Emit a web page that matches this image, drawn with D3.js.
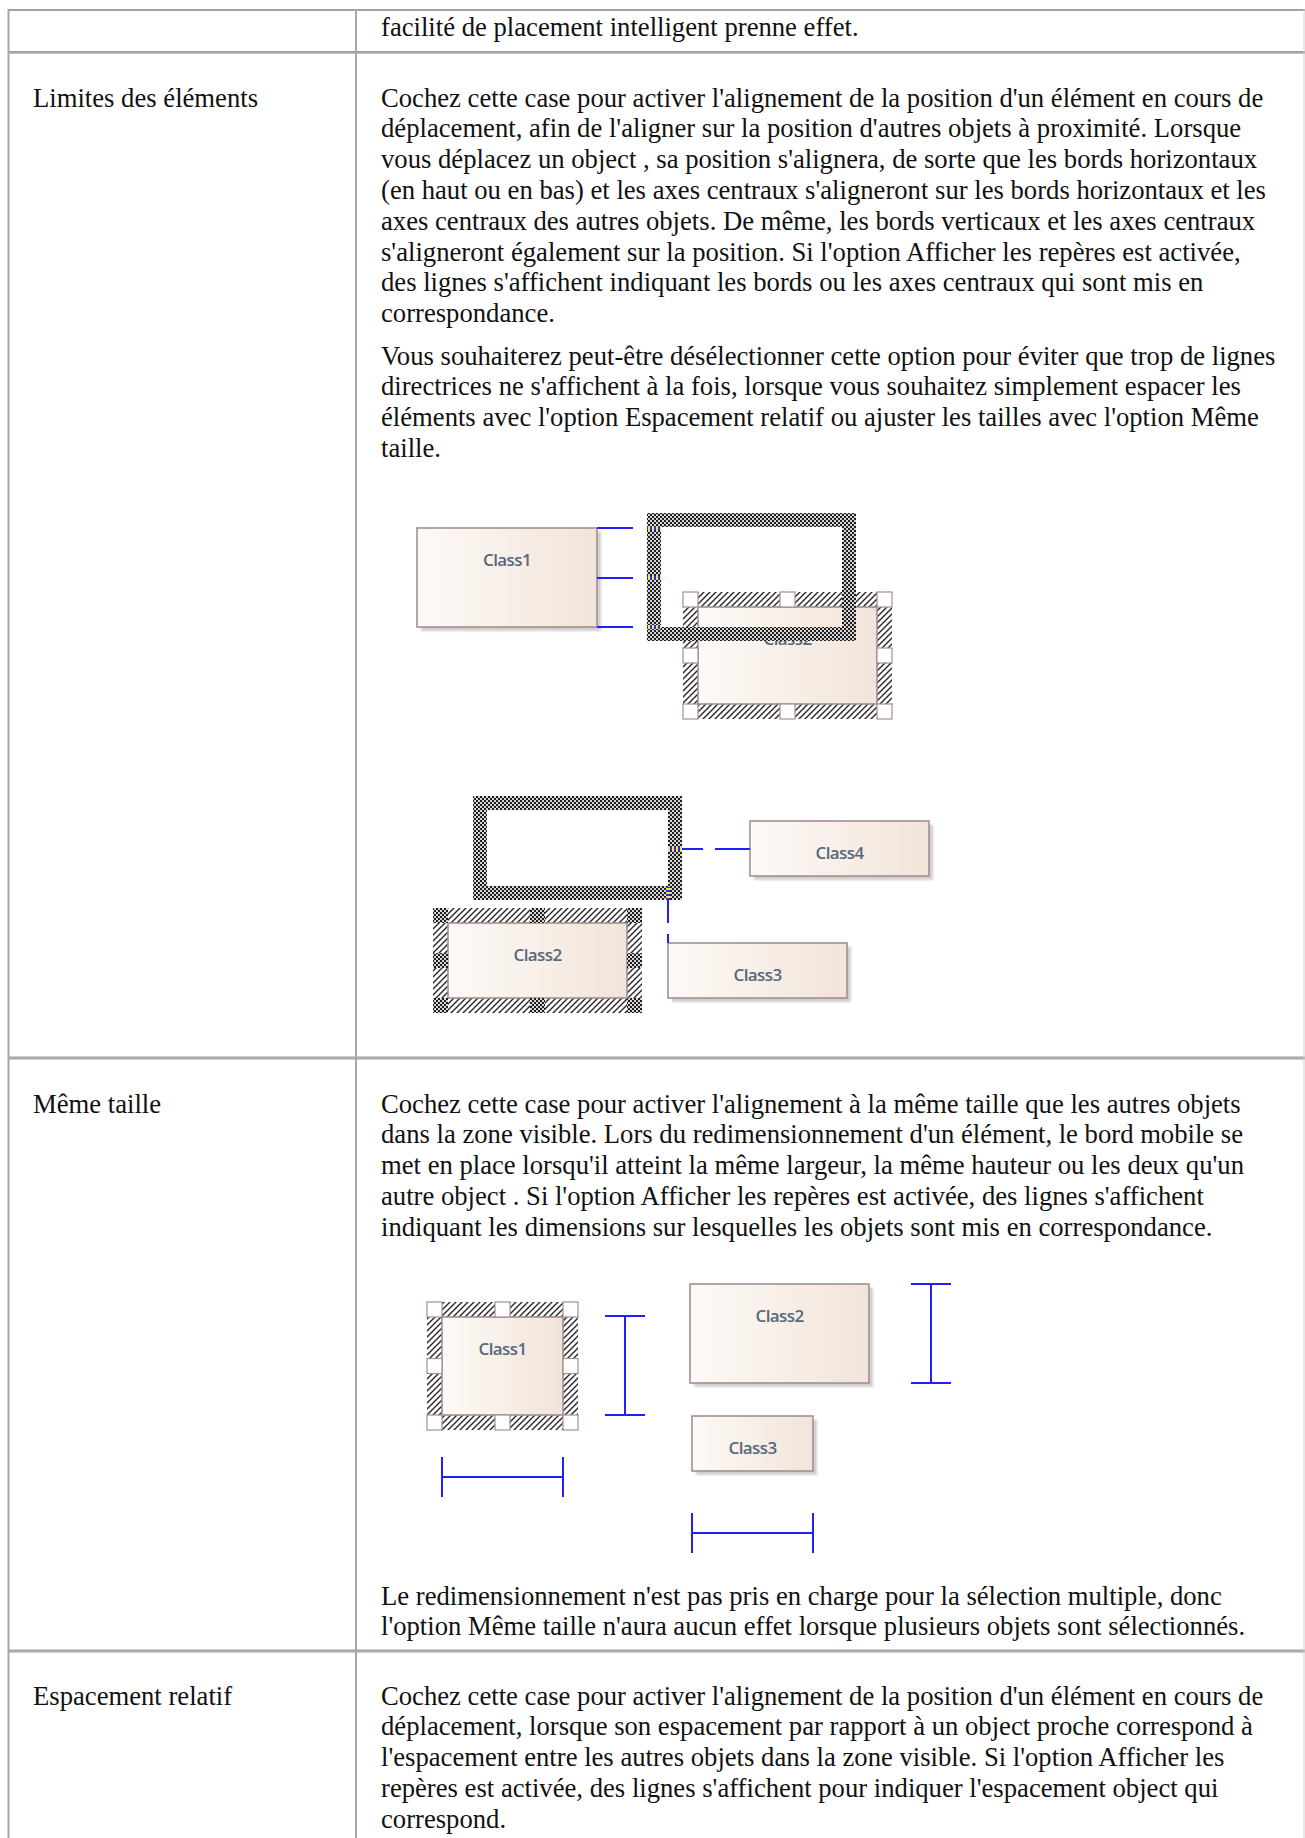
<!DOCTYPE html>
<html><head><meta charset="utf-8">
<script src="https://cdn.jsdelivr.net/npm/d3@7"></script>
<style>html,body{margin:0;padding:0;background:#fff;} svg{display:block}</style>
</head><body>
<script>
// ---------------- DATA ----------------
const rowLabels = ["", "Limites des éléments", "Même taille", "Espacement relatif"];
const row0Lines = ["facilité de placement intelligent prenne effet."];
const limitesPara1 = [
 "Cochez cette case pour activer l'alignement de la position d'un élément en cours de",
 "déplacement, afin de l'aligner sur la position d'autres objets à proximité. Lorsque",
 "vous déplacez un object , sa position s'alignera, de sorte que les bords horizontaux",
 "(en haut ou en bas) et les axes centraux s'aligneront sur les bords horizontaux et les",
 "axes centraux des autres objets. De même, les bords verticaux et les axes centraux",
 "s'aligneront également sur la position. Si l'option Afficher les repères est activée,",
 "des lignes s'affichent indiquant les bords ou les axes centraux qui sont mis en",
 "correspondance."
];
const limitesPara2 = [
 "Vous souhaiterez peut-être désélectionner cette option pour éviter que trop de lignes",
 "directrices ne s'affichent à la fois, lorsque vous souhaitez simplement espacer les",
 "éléments avec l'option Espacement relatif ou ajuster les tailles avec l'option Même",
 "taille."
];
const memePara1 = [
 "Cochez cette case pour activer l'alignement à la même taille que les autres objets",
 "dans la zone visible. Lors du redimensionnement d'un élément, le bord mobile se",
 "met en place lorsqu'il atteint la même largeur, la même hauteur ou les deux qu'un",
 "autre object . Si l'option Afficher les repères est activée, des lignes s'affichent",
 "indiquant les dimensions sur lesquelles les objets sont mis en correspondance."
];
const memePara2 = [
 "Le redimensionnement n'est pas pris en charge pour la sélection multiple, donc",
 "l'option Même taille n'aura aucun effet lorsque plusieurs objets sont sélectionnés."
];
const espacementPara = [
 "Cochez cette case pour activer l'alignement de la position d'un élément en cours de",
 "déplacement, lorsque son espacement par rapport à un object proche correspond à",
 "l'espacement entre les autres objets dans la zone visible. Si l'option Afficher les",
 "repères est activée, des lignes s'affichent pour indiquer l'espacement object qui",
 "correspond."
];
// Diagram contents (diagram-local units)
const diag1Boxes = [{name:"Class1", x:0, y:15, w:180, h:99, sel:false},
                    {name:"Class2", x:281, y:94, w:179, h:97, sel:true, handle:"white"}];
const diag1Frames = [{x:230, y:0, w:209, h:128}];
const diag1Guides = [[180,15,216,15],[180,65,216,65],[180,114,216,114]];
const diag1Marks = [{x:230,y:13,w:14,h:4,dir:"v"},{x:230,y:63,w:14,h:4,dir:"v"},{x:230,y:112,w:14,h:4,dir:"v"}];

const diag2Boxes = [{name:"Class4", x:316, y:25, w:179, h:55, sel:false},
                    {name:"Class3", x:234, y:147, w:179, h:55, sel:false},
                    {name:"Class2", x:14, y:127, w:179, h:75, sel:true, handle:"checker"}];
const diag2Frames = [{x:39, y:0, w:209, h:104}];
const diag2Guides = [[248,53,269,53],[281,53,316,53],[234,104,234,127],[234,138,234,147]];
const diag2Marks = [{x:234,y:51,w:14,h:4,dir:"v"},{x:232,y:91,w:4,h:13,dir:"h"}];

const diag3Boxes = [{name:"Class1", x:15, y:33, w:121, h:98, sel:true, handle:"white"},
                    {name:"Class2", x:263, y:0, w:179, h:99, sel:false},
                    {name:"Class3", x:265, y:132, w:121, h:55, sel:false}];
const diag3VBrackets = [{x:198, y1:32, y2:131}, {x:504, y1:0, y2:99}];
const diag3HBrackets = [{y:193, x1:15, x2:136}, {y:249, x1:265, x2:386}];

// ---------------- LAYOUT ----------------
const W = 1305, H = 1838;
const colLeftX = 33, colRightX = 381;
const lineStep = 30.8;
const dy = 3.5;

const svg = d3.select("body").append("svg").attr("width", W).attr("height", H);
svg.append("rect").attr("width", W).attr("height", H).attr("fill", "#fff");
const defs = svg.append("defs");

const ck = defs.append("pattern").attr("id","checker").attr("patternUnits","userSpaceOnUse").attr("width",4).attr("height",4);
ck.append("rect").attr("width",4).attr("height",4).attr("fill","#d6d6d6");
ck.append("rect").attr("width",2).attr("height",2).attr("fill","#1e1e1e");
ck.append("rect").attr("x",2).attr("y",2).attr("width",2).attr("height",2).attr("fill","#1e1e1e");

const ht = defs.append("pattern").attr("id","hatch").attr("patternUnits","userSpaceOnUse").attr("width",6).attr("height",6);
ht.append("rect").attr("width",6).attr("height",6).attr("fill","#fff");
ht.append("path").attr("d","M-1,7 L7,-1 M-1,1 L1,-1 M5,7 L7,5").attr("stroke","#262626").attr("stroke-width",1.4);

const stv = defs.append("pattern").attr("id","stripeV").attr("patternUnits","userSpaceOnUse").attr("width",4).attr("height",4);
stv.append("rect").attr("width",4).attr("height",4).attr("fill","#2a2aff");
stv.append("rect").attr("width",2).attr("height",4).attr("fill","#ffe23a");
const sth = defs.append("pattern").attr("id","stripeH").attr("patternUnits","userSpaceOnUse").attr("width",4).attr("height",4);
sth.append("rect").attr("width",4).attr("height",4).attr("fill","#2a2aff");
sth.append("rect").attr("width",4).attr("height",2).attr("fill","#ffe23a");

const gr = defs.append("linearGradient").attr("id","boxfill").attr("x1","0").attr("x2","1").attr("y1","0").attr("y2","0");
gr.append("stop").attr("offset","0").attr("stop-color","#fdfaf7");
gr.append("stop").attr("offset","1").attr("stop-color","#f2e4d9");
const blur = defs.append("filter").attr("id","shblur").attr("x","-10%").attr("y","-10%").attr("width","130%").attr("height","130%");
blur.append("feGaussianBlur").attr("stdDeviation",1.2);

// ---------------- TABLE ----------------
const rowY = d3.scaleOrdinal().domain(["top","r1","r2","r3"]).range([10, 52.5, 1058, 1651]);
const tbl = svg.append("g");
rowY.domain().forEach((k,i) => {
  tbl.append("line").attr("x1", 8).attr("x2", W).attr("y1", rowY(k)).attr("y2", rowY(k))
    .attr("stroke", "#a3a3a3").attr("stroke-width", i === 0 ? 2 : 3);
  if (i > 0) tbl.append("line").attr("x1", 8).attr("x2", W).attr("y1", rowY(k)+1).attr("y2", rowY(k)+1)
    .attr("stroke", "#c4c4c4").attr("stroke-width", 1);
});
tbl.append("line").attr("x1", 8.5).attr("x2", 8.5).attr("y1", 9).attr("y2", H).attr("stroke", "#a8a8a8").attr("stroke-width", 2);
tbl.append("line").attr("x1", 356).attr("x2", 356).attr("y1", 9).attr("y2", H).attr("stroke", "#a8a8a8").attr("stroke-width", 2);
tbl.append("line").attr("x1", 1304).attr("x2", 1304).attr("y1", 9).attr("y2", H).attr("stroke", "#d0d0d0").attr("stroke-width", 1);

// ---------------- TEXT ----------------
const FONT = "'Liberation Serif', 'Times New Roman', serif";
const probe = svg.append("text").attr("font-family", FONT).attr("font-size", 100).text(limitesPara1[0]);
const w100 = probe.node().getComputedTextLength();
probe.remove();
const fontSize = 100 * 883 / w100;

const txt = svg.append("g").attr("font-family", FONT).attr("font-size", fontSize).attr("fill", "#111");
function para(lines, x, y0) {
  const ly = d3.scaleLinear().domain([0, 1]).range([y0 + dy, y0 + dy + lineStep]);
  txt.selectAll(null).data(lines).enter().append("text")
    .attr("x", x).attr("y", (d, i) => ly(i)).text(d => d);
}
para(row0Lines, colRightX, 32);
para([rowLabels[1]], colLeftX, 103);
para(limitesPara1, colRightX, 103);
para(limitesPara2, colRightX, 361);
para([rowLabels[2]], colLeftX, 1109);
para(memePara1, colRightX, 1109);
para(memePara2, colRightX, 1601);
para([rowLabels[3]], colLeftX, 1701);
para(espacementPara, colRightX, 1701);

// ---------------- DIAGRAMS ----------------
const BORDER = "#a38f8f", BLUE = "#1f1fff";
function drawDiagram(ox, oy, boxes, frames, guides, marks, vbr, hbr) {
  const sx = d3.scaleLinear().domain([0, 100]).range([ox, ox + 100]);
  const sy = d3.scaleLinear().domain([0, 100]).range([oy, oy + 100]);
  const g = svg.append("g");
  const HS = 15; // hatch/handle size
  boxes.forEach(b => {
    const x = sx(b.x), y = sy(b.y), w = sx(b.x + b.w) - x, h = sy(b.y + b.h) - y;
    if (b.sel) {
      g.append("rect").attr("x", x - HS).attr("y", y - HS).attr("width", w + 2*HS).attr("height", h + 2*HS)
        .attr("fill", "url(#hatch)");
    } else {
      g.append("rect").attr("x", x + 4).attr("y", y + 4).attr("width", w).attr("height", h)
        .attr("fill", "#cfcfcf").attr("filter", "url(#shblur)");
    }
    g.append("rect").attr("x", x).attr("y", y).attr("width", w).attr("height", h)
      .attr("fill", "url(#boxfill)").attr("stroke", BORDER).attr("stroke-width", 1.6);
    g.append("text").attr("x", x + w/2).attr("y", y + 31).attr("text-anchor", "middle")
      .attr("dominant-baseline", "central").attr("font-family", "'Open Sans', 'Noto Sans', sans-serif")
      .attr("font-weight", 600).attr("font-size", 17).attr("letter-spacing", -0.6)
      .attr("fill", "#56677a").text(b.name);
    if (b.sel) {
      const hx = [x - HS, x + w/2 - HS/2, x + w], hy = [y - HS, y + h/2 - HS/2, y + h];
      hx.forEach((px, i) => hy.forEach((py, j) => {
        if (i === 1 && j === 1) return;
        g.append("rect").attr("x", px).attr("y", py).attr("width", HS).attr("height", HS)
          .attr("fill", b.handle === "checker" ? "url(#checker)" : "#fff")
          .attr("stroke", b.handle === "checker" ? "none" : BORDER).attr("stroke-width", 1.2);
      }));
    }
  });
  (frames || []).forEach(f => {
    const x = sx(f.x), y = sy(f.y), w = sx(f.x + f.w) - x, h = sy(f.y + f.h) - y, t = 14;
    const p = `M${x},${y}h${w}v${h}h${-w}Z M${x+t},${y+t}v${h-2*t}h${w-2*t}v${-(h-2*t)}Z`;
    g.append("path").attr("d", p).attr("fill", "url(#checker)").attr("fill-rule", "evenodd");
  });
  (guides || []).forEach(l => {
    g.append("line").attr("x1", sx(l[0])).attr("y1", sy(l[1])).attr("x2", sx(l[2])).attr("y2", sy(l[3]))
      .attr("stroke", BLUE).attr("stroke-width", 2);
  });
  (marks || []).forEach(m => {
    g.append("rect").attr("x", sx(m.x)).attr("y", sy(m.y)).attr("width", m.w).attr("height", m.h)
      .attr("fill", m.dir === "v" ? "url(#stripeV)" : "url(#stripeH)");
  });
  (vbr || []).forEach(v => {
    const x = sx(v.x), y1 = sy(v.y1), y2 = sy(v.y2);
    g.append("path").attr("d", `M${x},${y1}V${y2}M${x-20},${y1}H${x+20}M${x-20},${y2}H${x+20}`)
      .attr("stroke", BLUE).attr("stroke-width", 2).attr("fill", "none");
  });
  (hbr || []).forEach(v => {
    const y = sy(v.y), x1 = sx(v.x1), x2 = sx(v.x2);
    g.append("path").attr("d", `M${x1},${y}H${x2}M${x1},${y-20}V${y+20}M${x2},${y-20}V${y+20}`)
      .attr("stroke", BLUE).attr("stroke-width", 2).attr("fill", "none");
  });
}
drawDiagram(417, 513, diag1Boxes, diag1Frames, diag1Guides, diag1Marks);
drawDiagram(434, 796, diag2Boxes, diag2Frames, diag2Guides, diag2Marks);
drawDiagram(427, 1284, diag3Boxes, [], [], [], diag3VBrackets, diag3HBrackets);
</script>
</body></html>
